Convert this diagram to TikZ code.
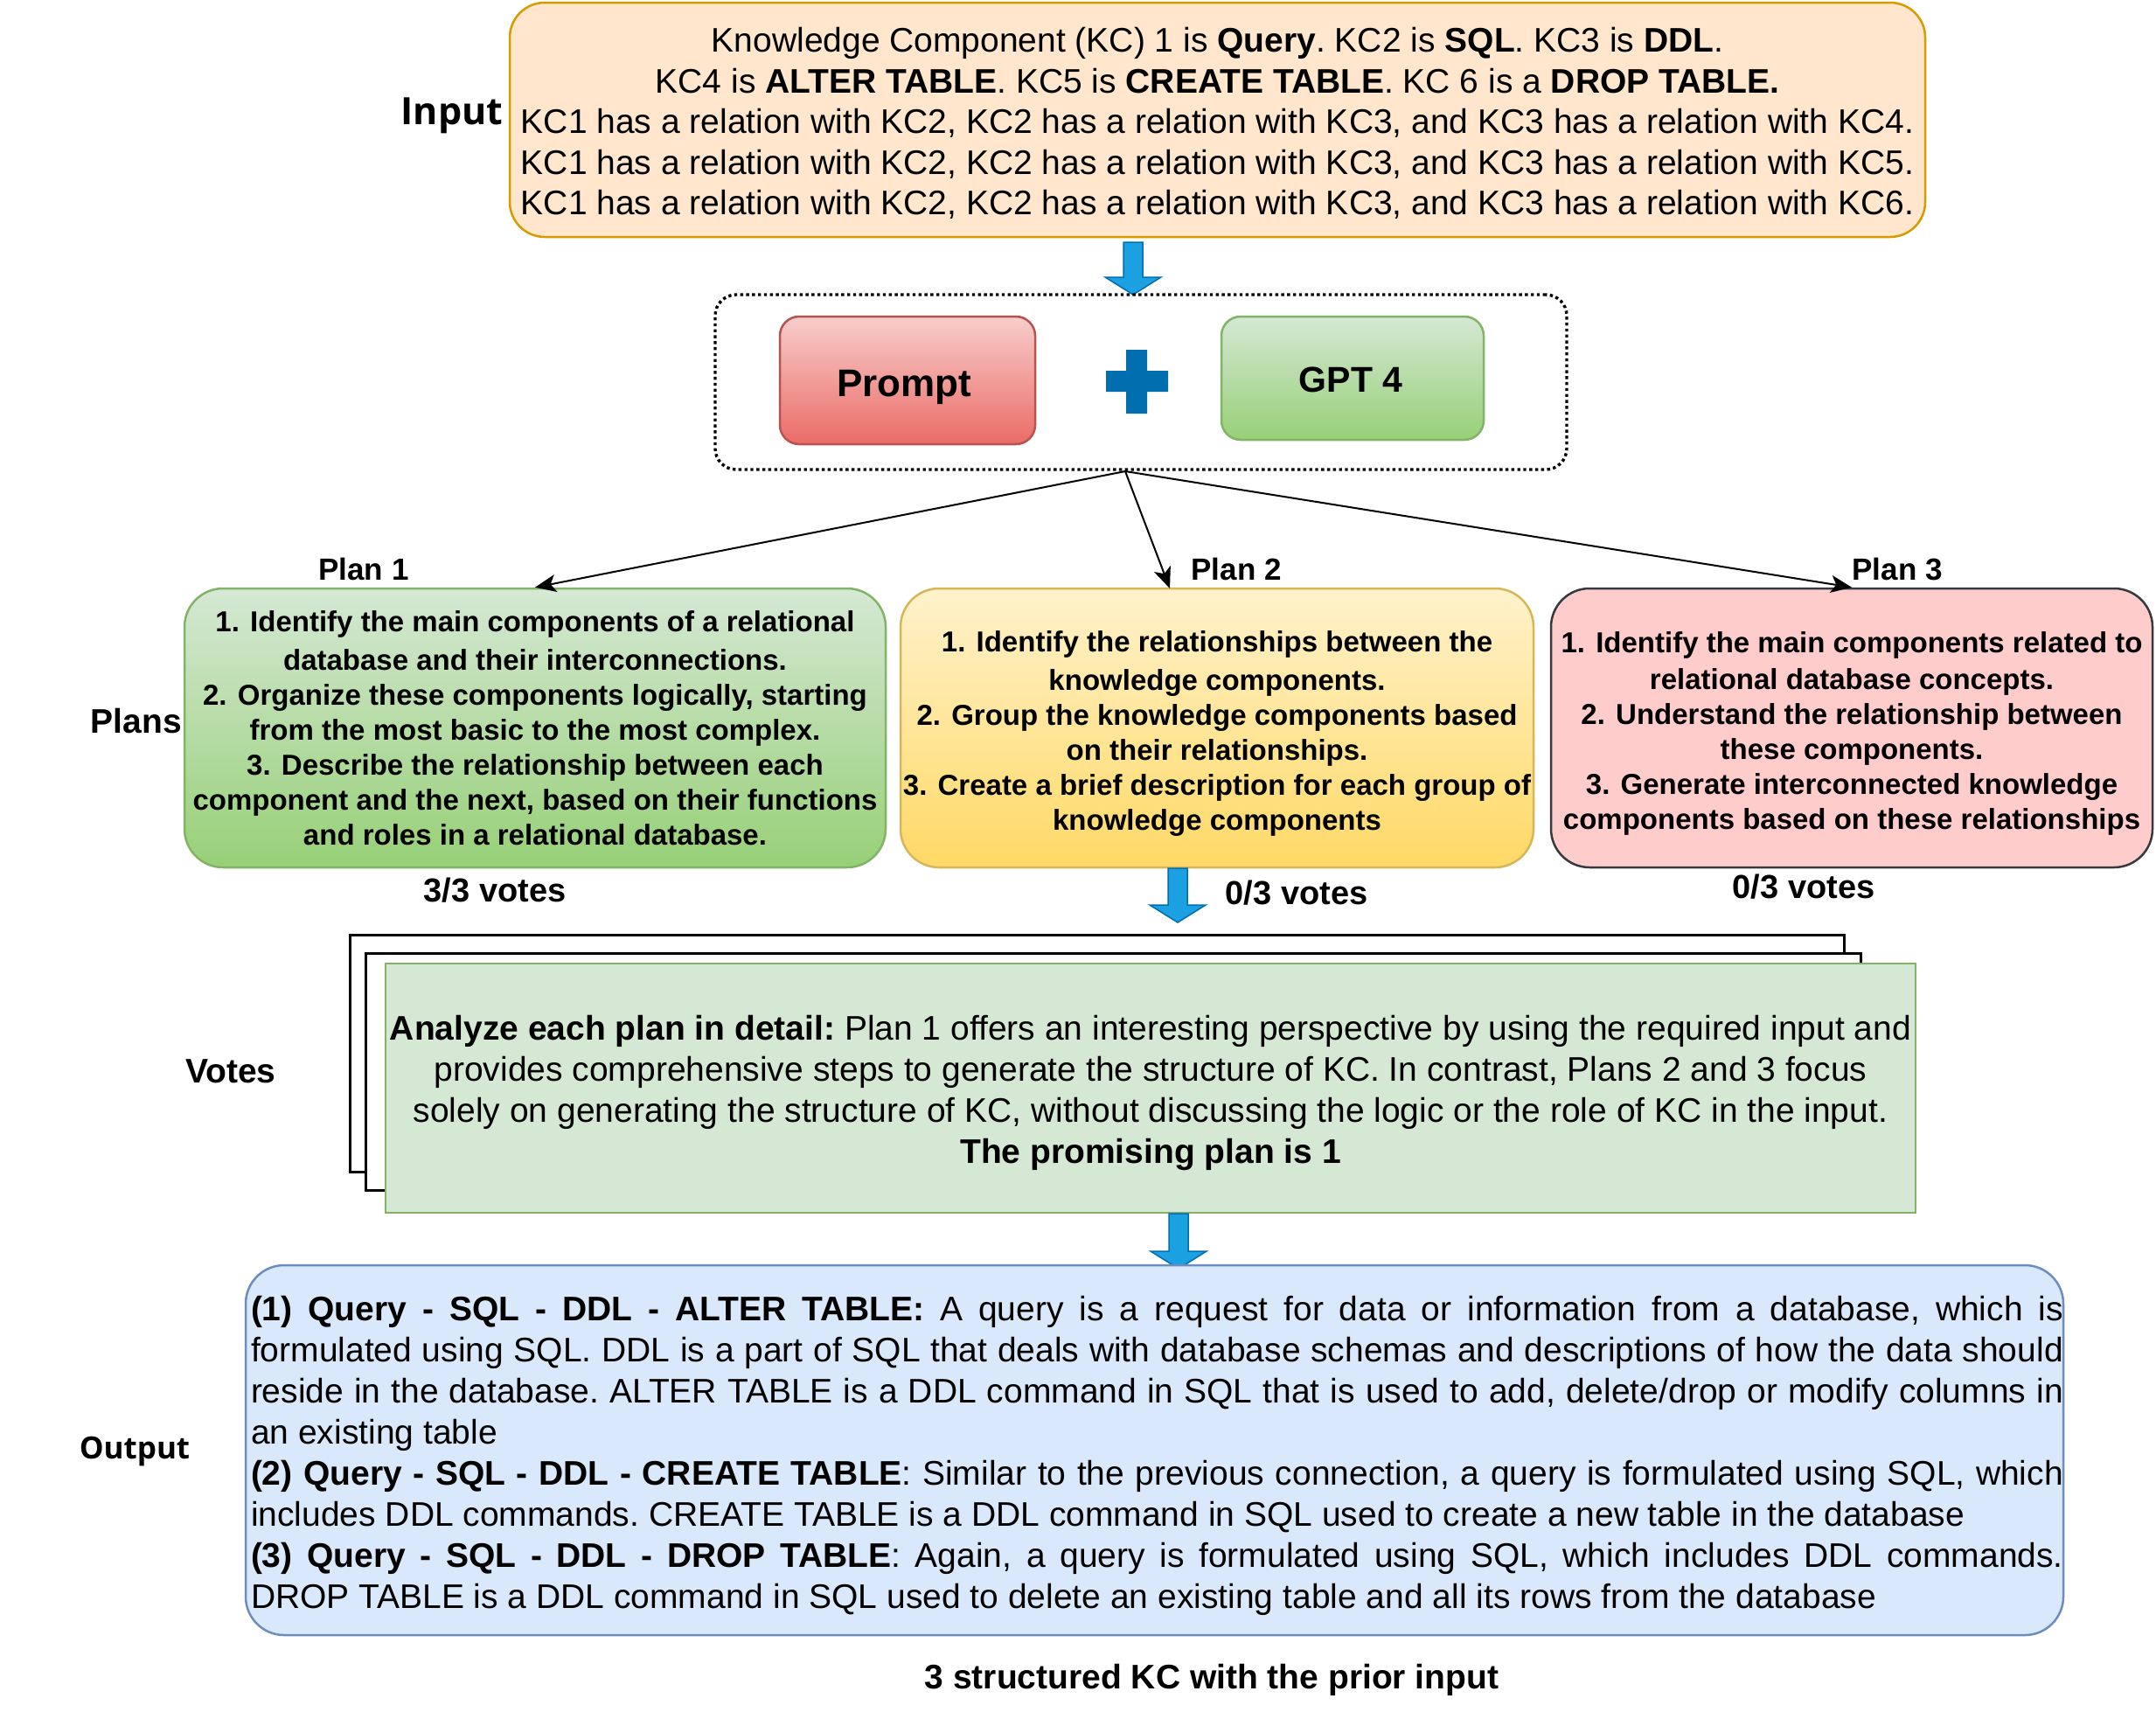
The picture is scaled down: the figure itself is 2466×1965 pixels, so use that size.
\documentclass[tikz,border=0pt]{standalone}
\usepackage{fontspec}
\setmainfont{Liberation Sans}
\newfontfamily\lblfont{Open Sans}
\usetikzlibrary{arrows.meta,calc}
\definecolor{inFill}{HTML}{FFE6CC}
\definecolor{inDraw}{HTML}{D79B00}
\definecolor{redTop}{HTML}{F8CECC}
\definecolor{redBot}{HTML}{EA6B66}
\definecolor{redDraw}{HTML}{B85450}
\definecolor{grTop}{HTML}{D5E8D4}
\definecolor{grBot}{HTML}{97D077}
\definecolor{grDraw}{HTML}{82B366}
\definecolor{yeTop}{HTML}{FFF2CC}
\definecolor{yeBot}{HTML}{FFD966}
\definecolor{yeDraw}{HTML}{D6B656}
\definecolor{pkFill}{HTML}{FFCCCC}
\definecolor{pkDraw}{HTML}{36393D}
\definecolor{blFill}{HTML}{DAE8FC}
\definecolor{blDraw}{HTML}{6C8EBF}
\definecolor{arrFill}{HTML}{1BA1E2}
\definecolor{arrDraw}{HTML}{006EAF}
\newcommand\bluearrow[3]{\draw[blockarr] (#1-11,#2) -- (#1+11,#2) -- (#1+11,#3-20) -- (#1+32,#3-20) -- (#1,#3) -- (#1-32,#3-20) -- (#1-11,#3-20) -- cycle;}
\newcommand\jl[1]{\makebox[1036.5pt][s]{#1}}
\begin{document}
\begin{tikzpicture}[x=0.5pt,y=-0.5pt,
  boxbase/.style={inner sep=0pt, align=center, line width=1.25pt},
  inbox/.style={boxbase, draw=inDraw, fill=inFill, rounded corners=20pt,
     minimum width=809.5pt, minimum height=134pt},
  intext/.style={inner sep=0pt, align=center, font=\fontsize{19.5}{23.3}\selectfont\frenchspacing},
  dotbox/.style={draw, line width=1.7pt, dash pattern=on 1.7pt off 1.7pt, rounded corners=12pt,
     minimum width=487pt, minimum height=100pt, inner sep=0pt},
  promptbox/.style={boxbase, draw=redDraw, top color=redTop, bottom color=redBot, rounded corners=11pt,
     minimum width=146pt, minimum height=73pt},
  gptbox/.style={boxbase, draw=grDraw, top color=grTop, bottom color=grBot, rounded corners=11pt,
     minimum width=150pt, minimum height=70.5pt},
  planbox/.style={boxbase, rounded corners=22pt, minimum height=159.5pt},
  plantext/.style={inner sep=0pt, align=center, font=\fontsize{16.5}{20}\selectfont\bfseries},
  backbox/.style={draw=black, fill=white, line width=1.5pt, inner sep=0pt,
     minimum width=855pt, minimum height=135.5pt},
  votebox/.style={boxbase, draw=grDraw, fill=grTop, minimum width=875pt, minimum height=142.5pt},
  votetext/.style={inner sep=0pt, align=center, font=\fontsize{19.5}{23.5}\selectfont\frenchspacing},
  outbox/.style={draw=blDraw, fill=blFill, line width=1.25pt, rounded corners=22pt, inner sep=0pt,
     minimum width=1039.5pt, minimum height=211.5pt},
  outtext/.style={inner sep=0pt, align=left, font=\fontsize{19.5}{23.5}\selectfont\frenchspacing},
  sidelbl/.style={inner sep=0pt, font=\fontsize{19.5}{23}\selectfont\bfseries},
  planlbl/.style={inner sep=0pt, font=\fontsize{17.5}{21}\selectfont\bfseries},
  votelbl/.style={inner sep=0pt, font=\fontsize{19}{23}\selectfont\bfseries},
  conn/.style={draw=black, line width=1pt, -{Stealth[length=12pt,width=10pt,inset=3pt]}},
  blockarr/.style={draw=arrDraw, fill=arrFill, line width=0.75pt, line join=miter}]
\useasboundingbox (0,0) rectangle (2466,1965);

% Input
\node[inbox] (input) at (1392.5,137) {};
\node[intext] (intxt) at (1392.5,141) {Knowledge Component (KC) 1 is \textbf{Query}. KC2 is \textbf{SQL}. KC3 is \textbf{DDL}.\\
KC4 is \textbf{ALTER TABLE}. KC5 is \textbf{CREATE TABLE}. KC 6 is a \textbf{DROP TABLE.}\\
KC1 has a relation with KC2, KC2 has a relation with KC3, and KC3 has a relation with KC4.\\
KC1 has a relation with KC2, KC2 has a relation with KC3, and KC3 has a relation with KC5.\\
KC1 has a relation with KC2, KC2 has a relation with KC3, and KC3 has a relation with KC6.};
\node[inner sep=0pt, font=\lblfont\bfseries\fontsize{21.5}{25}\selectfont] (inlbl) at (517,132) {Input};

% arrow input -> group
\bluearrow{1296}{277}{337}

% group
\node[dotbox] (group) at (1305,437) {};
\node[promptbox] (prompt) at (1038,435) {};
\node[inner sep=0pt, font=\fontsize{22}{26}\selectfont\bfseries] (prompttxt) at (1034,443) {Prompt};
\node[gptbox] (gpt) at (1547,432.5) {};
\node[inner sep=0pt, font=\fontsize{20.5}{24}\selectfont\bfseries] (gpttxt) at (1545,434) {GPT 4};
\fill[arrDraw] (1288,400) -- (1312,400) -- (1312,424) -- (1336,424) -- (1336,448) -- (1312,448)
   -- (1312,473) -- (1288,473) -- (1288,448) -- (1265,448) -- (1265,424) -- (1288,424) -- cycle;

% plans
\node[planbox, draw=grDraw, top color=grTop, bottom color=grBot, minimum width=401pt] (plan1) at (612,832.5) {};
\node[plantext] (plan1txt) at (612,832.5)
 {1. Identify the main components of a relational\\[2pt]
  database and their interconnections.\\
  2. Organize these components logically, starting\\
  from the most basic to the most complex.\\
  3. Describe the relationship between each\\
  component and the next, based on their functions\\
  and roles in a relational database.};
\node[planbox, draw=yeDraw, top color=yeTop, bottom color=yeBot, minimum width=362pt] (plan2) at (1392,832.5) {};
\node[plantext] (plan2txt) at (1392,839)
 {1. Identify the relationships between the\\[2pt]
  knowledge components.\\
  2. Group the knowledge components based\\
  on their relationships.\\
  3. Create a brief description for each group of\\
  knowledge components};
\node[planbox, draw=pkDraw, fill=pkFill, minimum width=344pt] (plan3) at (2118,832.5) {};
\node[plantext] (plan3txt) at (2118,839)
 {1. Identify the main components related to\\[1pt]
  relational database concepts.\\
  2. Understand the relationship between\\
  these components.\\
  3. Generate interconnected knowledge\\
  components based on these relationships};

\node[planlbl] (p1lbl) at (416,651) {Plan 1};
\node[planlbl] (p2lbl) at (1414,651) {Plan 2};
\node[planlbl] (p3lbl) at (2170,651) {Plan 3};
\node[sidelbl] (planslbl) at (156,825) {Plans};

\coordinate (src) at (1287,539);
\coordinate (t2) at (1338,673);
\draw[conn] (src) -- (plan1.north);
\draw[conn] (src) -- (t2);
\draw[conn] (src) -- (plan3.north);

\node[votelbl] (v1) at (566,1018) {3/3 votes};
\node[votelbl] (v2) at (1483,1021) {0/3 votes};
\node[votelbl] (v3) at (2063,1014) {0/3 votes};

\bluearrow{1347}{993}{1055}

% votes
\node[backbox, minimum width=854.5pt] (backA) at (1254.5,1204.5) {};
\node[backbox] (backB) at (1273,1225.5) {};
\node[votebox] (votes) at (1316,1244.5) {};
\node[votetext] (votestxt) at (1316,1249.5)
 {\textbf{Analyze each plan in detail:} Plan 1 offers an interesting perspective by using the required input and\\
  provides comprehensive steps to generate the structure of KC. In contrast, Plans 2 and 3 focus\\
  solely on generating the structure of KC, without discussing the logic or the role of KC in the input.\\
  \textbf{The promising plan is 1}};
\node[sidelbl] (voteslbl) at (264,1225) {Votes};

\bluearrow{1348}{1388}{1451}

% output
\node[outbox] (output) at (1320.5,1658.5) {};
\node[outtext] (outtxt) at (1323.5,1665)
 {\jl{\textbf{(1) Query - SQL - DDL - ALTER TABLE:} A query is a request for data or information from a database, which is}\\
  \jl{formulated using SQL. DDL is a part of SQL that deals with database schemas and descriptions of how the data should}\\
  \jl{reside in the database. ALTER TABLE is a DDL command in SQL that is used to add, delete/drop or modify columns in}\\
  an existing table\\
  \jl{\textbf{(2) Query - SQL - DDL - CREATE TABLE}: Similar to the previous connection, a query is formulated using SQL, which}\\
  includes DDL commands. CREATE TABLE is a DDL command in SQL used to create a new table in the database\\
  \jl{\textbf{(3) Query - SQL - DDL - DROP TABLE}: Again, a query is formulated using SQL, which includes DDL commands.}\\
  DROP TABLE is a DDL command in SQL used to delete an existing table and all its rows from the database};
\node[inner sep=0pt, font=\lblfont\bfseries\fontsize{17.5}{21}\selectfont] (outlbl) at (154,1660) {Output};
\node[sidelbl] (caption) at (1386,1921) {3 structured KC with the prior input};
\end{tikzpicture}
\end{document}
